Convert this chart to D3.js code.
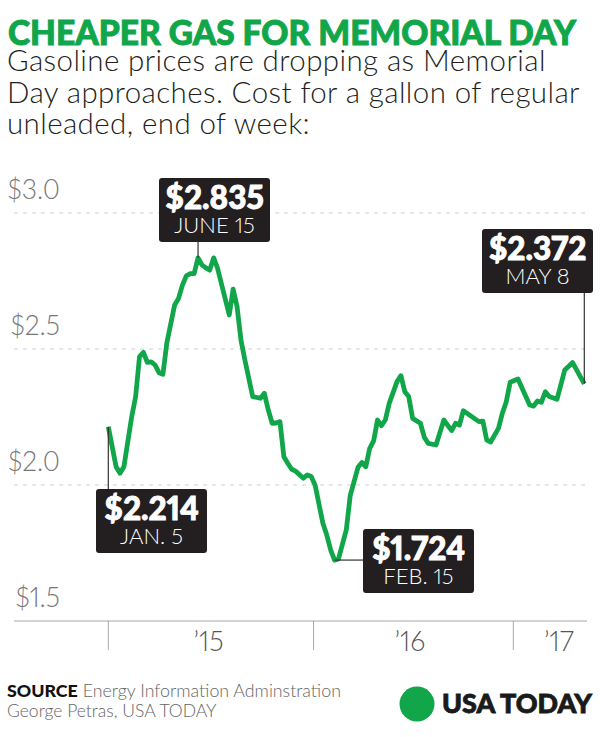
<!DOCTYPE html>
<html lang="en">
<head>
    <meta charset="UTF-8">
    <title>Cheaper gas for Memorial Day</title>
    <script src="https://d3js.org/d3.v7.min.js"></script>
    <style>
        html, body { margin: 0; padding: 0; background: #fff; }
        svg { display: block; font-family: Lato, sans-serif; font-feature-settings: "pnum"; }
    </style>
</head>
<body>
    <svg id="chart" width="600" height="737"></svg>

    <script>
        // weeks since Jan. 5, 2015 (end of week readings)
        const weeks = [0, 2, 3, 4, 6, 7, 8, 9, 10, 11, 12, 13, 14, 15, 17, 18, 19, 20, 21, 22, 23, 24, 25, 26, 27, 28,
            31, 32, 33, 34, 35, 37, 39, 40, 41, 42, 43, 44, 45, 46, 47, 48, 50, 51, 52, 53, 55, 56, 57, 58, 59,
            61, 62, 64, 65, 66, 67, 68, 69, 70, 71, 72, 74, 75, 76, 77, 78, 80, 81, 82, 84, 86, 88, 89, 90, 91,
            95, 96, 97, 98, 100, 101, 102, 103, 105, 108, 109, 110, 111, 112, 113, 115, 117, 119, 122];
        const prices = [2.214, 2.067, 2.043, 2.067, 2.251, 2.324, 2.472, 2.488, 2.451, 2.453, 2.441, 2.413, 2.407, 2.522, 2.662, 2.686, 2.735, 2.769, 2.777, 2.777, 2.835, 2.809, 2.798, 2.790, 2.835, 2.797,
            2.625, 2.720, 2.656, 2.533, 2.460, 2.325, 2.319, 2.337, 2.276, 2.227, 2.228, 2.233, 2.104, 2.080, 2.058, 2.051, 2.025, 2.037, 2.031, 2.000, 1.859, 1.816, 1.761, 1.724, 1.728,
            1.835, 1.961, 2.065, 2.083, 2.067, 2.135, 2.162, 2.239, 2.218, 2.239, 2.300, 2.380, 2.402, 2.343, 2.325, 2.245, 2.227, 2.175, 2.153, 2.147, 2.239, 2.200, 2.227, 2.220, 2.273,
            2.233, 2.235, 2.165, 2.158, 2.208, 2.264, 2.306, 2.378, 2.390, 2.294, 2.290, 2.309, 2.304, 2.343, 2.325, 2.315, 2.423, 2.450, 2.372];

        const yTicks = [1.5, 2.0, 2.5, 3.0];
        const yearTicks = [0, 52.6, 103.8];
        const yearLabels = ["\u201915", "\u201916", "\u201917"];
        const yearLabelWeeks = [25.7, 77.3, 115.5];

        const calloutWeeks = [0, 23, 58, 122];
        const calloutValues = [2.214, 2.835, 1.724, 2.372];
        const calloutPrices = ["$2.214", "$2.835", "$1.724", "$2.372"];
        const calloutDates = ["JAN. 5", "JUNE 15", "FEB. 15", "MAY 8"];

        const subtitleLines = ["Gasoline prices are dropping as Memorial",
            "Day approaches. Cost for a gallon of regular",
            "unleaded, end of week:"];

        const green = "#12a64a";
        const svg = d3.select("#chart");

        const x = d3.scaleLinear().domain([0, 122]).range([108.3, 584.3]);
        const y = d3.scaleLinear().domain([1.5, 3.0]).range([621, 213]);

        // heading
        svg.append("text").attr("x", 8).attr("y", 45)
            .attr("font-size", 34.5).attr("font-weight", 900).attr("fill", green)
            .attr("stroke", green).attr("stroke-width", 1)
            .attr("textLength", 568).attr("lengthAdjust", "spacingAndGlyphs")
            .text("CHEAPER GAS FOR MEMORIAL DAY");

        svg.selectAll(".sub").data(subtitleLines).enter().append("text")
            .attr("class", "sub").attr("x", 7).attr("y", (d, i) => 71 + i * 31.5)
            .attr("font-size", 29.5).attr("font-weight", 300).attr("fill", "#231f20")
            .attr("letter-spacing", 0.4)
            .text(d => d);

        // grid and y labels
        svg.selectAll(".grid").data(yTicks.slice(1)).enter().append("line")
            .attr("x1", 14).attr("x2", 587)
            .attr("y1", d => y(d)).attr("y2", d => y(d))
            .attr("stroke", "#cfcfcf").attr("stroke-width", 1).attr("stroke-dasharray", "4 5");

        svg.selectAll(".ylab").data(yTicks).enter().append("text")
            .attr("x", 60).attr("y", d => y(d) - 14)
            .attr("text-anchor", "end").attr("font-size", 26.5).attr("font-weight", 300).attr("fill", "#777")
            .text(d => "$" + d.toFixed(1));

        // x axis
        svg.append("line").attr("x1", 14).attr("x2", 587).attr("y1", y(1.5)).attr("y2", y(1.5))
            .attr("stroke", "#c4c4c4").attr("stroke-width", 1.5);
        svg.selectAll(".tick").data(yearTicks).enter().append("line")
            .attr("x1", d => x(d)).attr("x2", d => x(d)).attr("y1", y(1.5)).attr("y2", 650)
            .attr("stroke", "#aaa").attr("stroke-width", 1);
        svg.selectAll(".year").data(yearLabels).enter().append("text")
            .attr("x", (d, i) => x(yearLabelWeeks[i])).attr("y", 651)
            .attr("text-anchor", "middle").attr("font-size", 27).attr("font-weight", 300).attr("fill", "#555")
            .text(d => d);

        // price line
        const line = d3.line().x((d, i) => x(weeks[i])).y(d => y(d));
        svg.append("path").attr("d", line(prices))
            .attr("fill", "none").attr("stroke", green).attr("stroke-width", 4.8).attr("stroke-linejoin", "round");

        // callouts: box left and top, then the leader's end on the box
        const boxW = 111, boxH = 64;
        const boxes = [[96, 489], [159, 178], [363, 529], [482, 229]];
        calloutWeeks.forEach((w, i) => {
            const px = x(w), py = y(calloutValues[i]);
            const [bx, by] = boxes[i];
            const horizontal = i === 2;
            svg.append("line")
                .attr("x1", px).attr("y1", py)
                .attr("x2", horizontal ? bx : px)
                .attr("y2", horizontal ? py : (by < py ? by + boxH : by + 4))
                .attr("stroke", "#333").attr("stroke-width", 1.2);
            svg.append("rect").attr("x", bx).attr("y", by).attr("width", boxW).attr("height", boxH)
                .attr("rx", 3).attr("fill", "#231f20");
            svg.append("text").attr("x", bx + boxW / 2).attr("y", by + 31)
                .attr("text-anchor", "middle").attr("font-size", 31.5).attr("font-weight", 900).attr("fill", "#fff")
                .attr("stroke", "#fff").attr("stroke-width", 0.9)
                .text(calloutPrices[i]);
            svg.append("text").attr("x", bx + boxW / 2).attr("y", by + 55)
                .attr("text-anchor", "middle").attr("font-size", 22).attr("font-weight", 300).attr("fill", "#fff")
                .text(calloutDates[i]);
        });

        // footer
        const source = svg.append("text").attr("x", 7).attr("y", 697).attr("font-size", 17.8);
        source.append("tspan").attr("font-weight", 900).attr("fill", "#111").text("SOURCE");
        source.append("tspan").attr("dx", 5).attr("font-weight", 300).attr("fill", "#666")
            .text("Energy Information Adminstration");
        svg.append("text").attr("x", 7).attr("y", 717).attr("font-size", 17.5).attr("font-weight", 300).attr("fill", "#666")
            .text("George Petras, USA TODAY");

        svg.append("circle").attr("cx", 417).attr("cy", 704).attr("r", 17.5).attr("fill", green);
        svg.append("text").attr("x", 442).attr("y", 713).attr("font-size", 26).attr("font-weight", 900).attr("fill", "#1a1a1a")
            .attr("stroke", "#1a1a1a").attr("stroke-width", 0.8)
            .attr("textLength", 150).attr("lengthAdjust", "spacingAndGlyphs")
            .text("USA TODAY");
    </script>
</body>
</html>
